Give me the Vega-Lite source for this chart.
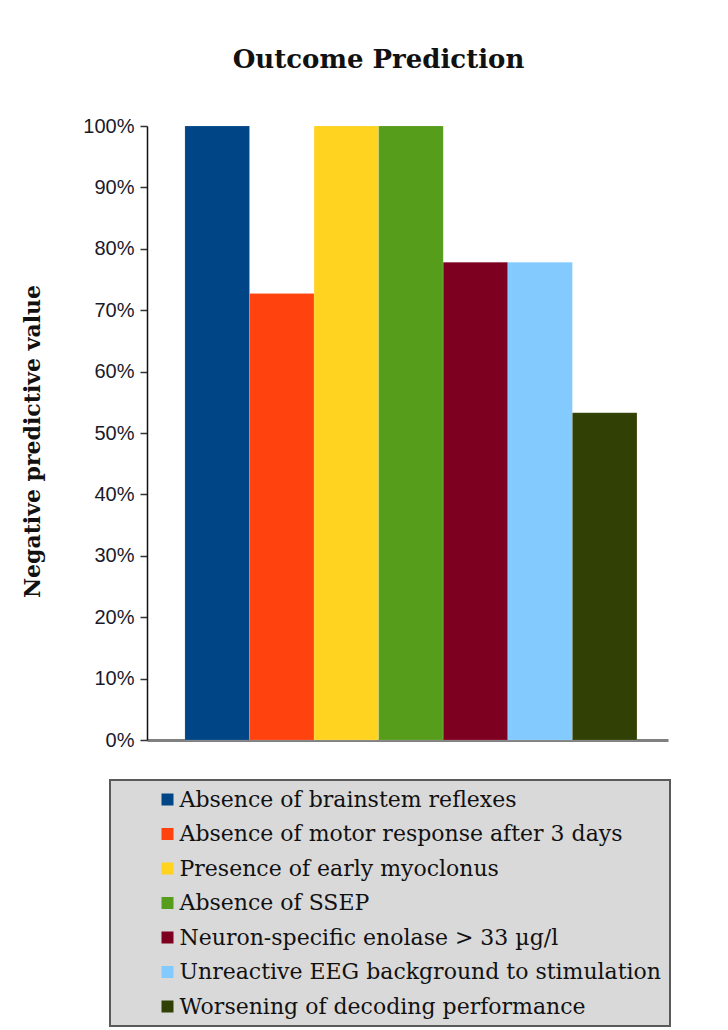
{
  "$schema": "https://vega.github.io/schema/vega-lite/v6.json",
  "width": 521,
  "height": 614,
  "autosize": {"type": "none"},
  "padding": {"left": 147, "top": 126, "right": 60, "bottom": 290},
  "background": "white",
  "title": {
    "text": "Outcome Prediction",
    "font": "DejaVu Serif",
    "fontSize": 26,
    "fontWeight": "bold",
    "color": "#111111",
    "anchor": "middle",
    "baseline": "alphabetic",
    "offset": 22,
    "dx": -29
  },
  "data": {
    "values": [
      {"predictor": "Absence of brainstem reflexes", "npv": 1.0},
      {"predictor": "Absence of motor response after 3 days", "npv": 0.727},
      {"predictor": "Presence of early myoclonus", "npv": 1.0},
      {"predictor": "Absence of SSEP", "npv": 1.0},
      {"predictor": "Neuron-specific enolase > 33 µg/l", "npv": 0.778},
      {"predictor": "Unreactive EEG background to stimulation", "npv": 0.778},
      {"predictor": "Worsening of decoding performance", "npv": 0.533}
    ]
  },
  "mark": {"type": "bar", "stroke": "#ffffff", "strokeOpacity": 0.25, "strokeWidth": 0.5},
  "encoding": {
    "x": {
      "field": "predictor",
      "type": "nominal",
      "sort": null,
      "scale": {"paddingInner": 0, "paddingOuter": 0.534, "align": 0.55},
      "axis": {
        "labels": false,
        "ticks": false,
        "title": null,
        "domainColor": "#808080",
        "domainWidth": 3
      }
    },
    "y": {
      "field": "npv",
      "type": "quantitative",
      "scale": {"domain": [0, 1], "nice": false},
      "axis": {
        "format": ".0%",
        "values": [0, 0.1, 0.2, 0.3, 0.4, 0.5, 0.6, 0.7, 0.8, 0.9, 1.0],
        "grid": false,
        "domainColor": "#111111",
        "domainWidth": 1.5,
        "tickColor": "#333333",
        "tickSize": 7,
        "tickWidth": 1.5,
        "labelFont": "Liberation Sans",
        "labelFontSize": 20,
        "labelColor": "#1a1a2a",
        "labelPadding": 6,
        "title": "Negative predictive value",
        "titleFont": "DejaVu Serif",
        "titleFontSize": 22,
        "titleFontWeight": "bold",
        "titleColor": "#111111",
        "titleX": -115,
        "titleY": 315,
        "titleBaseline": "middle"
      }
    },
    "color": {
      "field": "predictor",
      "type": "nominal",
      "sort": null,
      "scale": {
        "domain": [
          "Absence of brainstem reflexes",
          "Absence of motor response after 3 days",
          "Presence of early myoclonus",
          "Absence of SSEP",
          "Neuron-specific enolase > 33 µg/l",
          "Unreactive EEG background to stimulation",
          "Worsening of decoding performance"
        ],
        "range": ["#004586", "#ff420e", "#ffd320", "#579d1c", "#7e0021", "#83caff", "#314004"]
      },
      "legend": {
        "title": null,
        "orient": "none",
        "legendX": -37,
        "legendY": 654,
        "direction": "vertical",
        "fillColor": "#d9d9d9",
        "strokeColor": "#5a5a5a",
        "padding": 8.5,
        "symbolType": "square",
        "symbolSize": 144,
        "symbolStrokeWidth": 0,
        "symbolOffset": 38,
        "labelFont": "DejaVu Serif",
        "labelFontSize": 22,
        "labelColor": "#111111",
        "labelOffset": 1,
        "labelLimit": 700,
        "rowPadding": 12.5
      }
    }
  },
  "config": {"view": {"stroke": null}, "legend": {"strokeWidth": 2}}
}
